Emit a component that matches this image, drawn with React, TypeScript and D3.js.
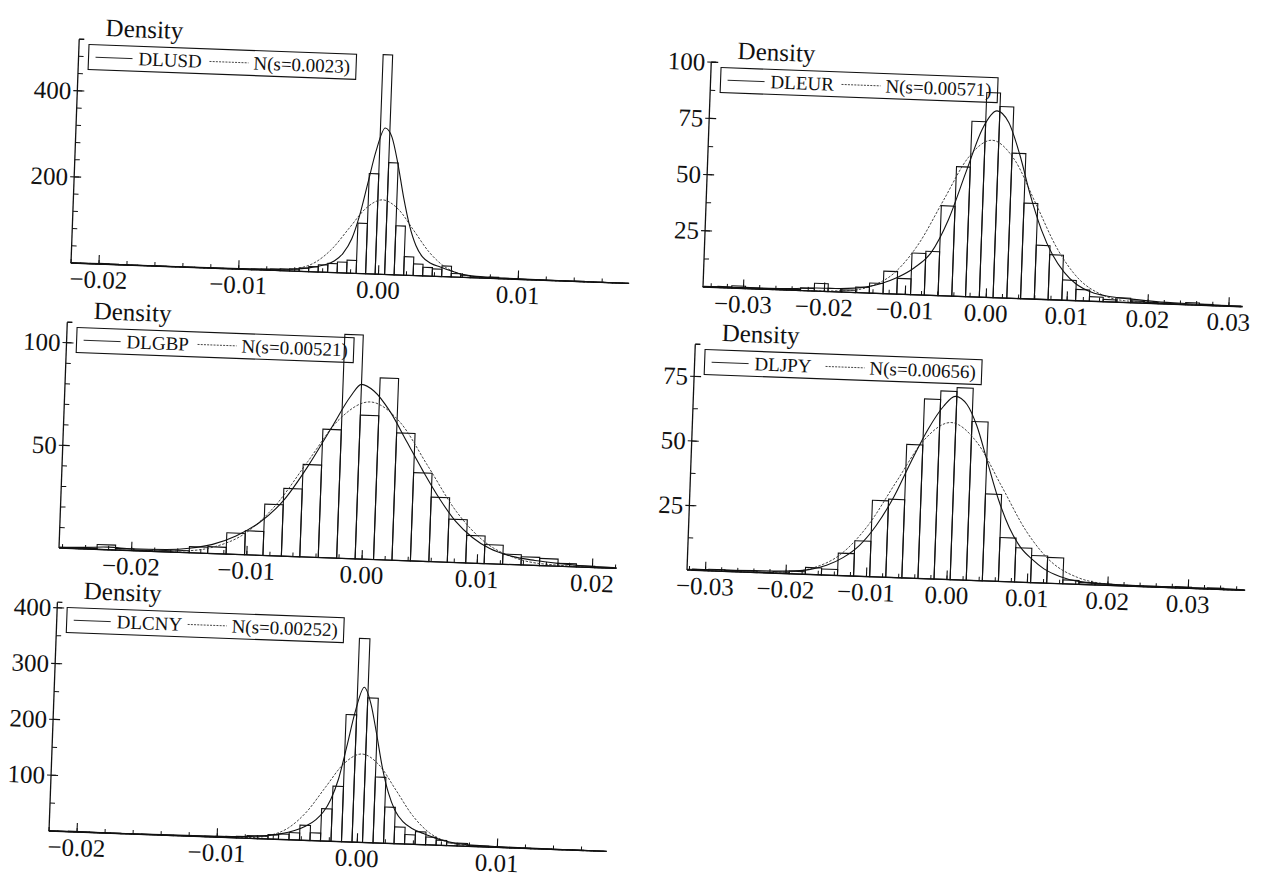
import * as React from 'react';
import * as d3 from 'd3';

// ---- data (densities per histogram bin) ----

// DLUSD: bins of width 0.00068 starting at -0.0220
const usdBinStart = -0.022;
const usdBinWidth = 0.00068;
const usdDensity = [
  0.3, 0.5, 1, 1.5, 1, 0.5, 0.3, 0.3, 0.3, 0.5, 0.3, 0.3, 0.3, 0.3, 0.5, 0.5,
  0.5, 1, 1, 1.5, 2, 3, 4, 5, 8, 12, 17, 21, 25, 30, 117, 233,
  510, 260, 114, 43, 27, 20, 17, 25, 8, 5, 3, 2, 3, 1, 0.8, 0.5,
  0.5, 0.5, 0.3, 0.3, 0.5, 1, 0.5, 0.3, 0.3, 0.3, 0.3,
];
const usdKernel = [
  [-0.022, 0.3], [-0.018, 0.5], [-0.014, 0.8], [-0.01, 1.5], [-0.008, 2.5], [-0.006, 5],
  [-0.005, 9], [-0.004, 16], [-0.0032, 27], [-0.0026, 45], [-0.002, 80], [-0.0015, 135],
  [-0.001, 210], [-0.0005, 285], [0.0001, 340], [0.0006, 320], [0.0011, 258], [0.0016, 180],
  [0.0021, 115], [0.0026, 70], [0.0031, 44], [0.0037, 30], [0.0044, 22], [0.0052, 14],
  [0.006, 7], [0.007, 3.5], [0.009, 2], [0.012, 1], [0.015, 0.6], [0.0179, 0.3],
];
const usdNormal = [
  [-0.022, 0], [-0.0092, 0.06], [-0.0068, 1.9], [-0.00565, 7.6], [-0.0045, 23.4], [-0.00335, 56.3],
  [-0.0022, 105], [-0.00105, 152.6], [0.0001, 173], [0.00125, 152.6], [0.0024, 105], [0.00355, 56.3],
  [0.0047, 23.4], [0.00585, 7.6], [0.007, 1.9], [0.0094, 0.06], [0.0179, 0],
];

// DLEUR
const eurBinStart = -0.03655;
const eurBinWidth = 0.0017;
const eurDensity = [
  0.2, 0.3, 0.5, 1, 0.5, 0.3, 0.3, 0.5, 1.2, 3.5, 1.5, 1, 2.5, 4.5, 10, 7,
  18.5, 19.5, 40, 57.6, 78, 91, 85, 64.5, 42.5, 24, 20, 9, 5, 2, 1, 2,
  0.8, 0.5, 0.3, 0.3, 1, 0.5, 0.3, 0.3,
];
const eurKernel = [
  [-0.035, 0.2], [-0.03, 0.4], [-0.025, 0.6], [-0.021, 1.4], [-0.018, 1.6], [-0.015, 2.6],
  [-0.013, 4.5], [-0.011, 7.5], [-0.009, 12], [-0.007, 19], [-0.005, 34], [-0.003, 56],
  [-0.0012, 75], [0.0005, 83], [0.002, 78], [0.0035, 64], [0.005, 46], [0.0065, 31],
  [0.008, 20], [0.0095, 12.5], [0.011, 7.5], [0.013, 4], [0.015, 2.5], [0.018, 1.6],
  [0.021, 0.9], [0.025, 0.5], [0.0317, 0.2],
];
const eurNormal = [
  [-0.035, 0], [-0.0228, 0.02], [-0.0171, 0.78], [-0.01428, 3.07], [-0.01142, 9.46], [-0.00857, 22.7],
  [-0.00571, 42.4], [-0.00286, 61.7], [0, 69.9], [0.00286, 61.7], [0.00571, 42.4], [0.00857, 22.7],
  [0.01142, 9.46], [0.01428, 3.07], [0.0171, 0.78], [0.0228, 0.02], [0.0317, 0],
];

// DLGBP
const gbpBinStart = -0.0262;
const gbpBinWidth = 0.0016;
const gbpDensity = [
  0.3, 0.5, 2.4, 0.8, 0.5, 0.7, 1, 3, 3.3, 10.4, 11.7, 25, 33, 45, 62.5, 109,
  70, 88.5, 62, 43, 31.4, 21, 13.4, 9.3, 5, 4, 3.5, 1.5, 0.7, 0.4,
];
const gbpKernel = [
  [-0.0263, 0.3], [-0.024, 0.8], [-0.022, 1.3], [-0.02, 0.9], [-0.017, 1.2], [-0.015, 2.2],
  [-0.013, 4.5], [-0.011, 9], [-0.009, 16], [-0.007, 27], [-0.005, 44], [-0.003, 64],
  [-0.0015, 79], [-0.0006, 85], [0.0005, 82], [0.002, 72], [0.0035, 58], [0.005, 44],
  [0.0065, 31], [0.008, 20], [0.0095, 12.5], [0.011, 7.5], [0.013, 4], [0.015, 2.4],
  [0.017, 1.4], [0.019, 0.7], [0.0221, 0.3],
];
const gbpNormal = [
  [-0.0263, 0], [-0.0206, 0.02], [-0.01543, 0.85], [-0.01283, 3.37], [-0.01022, 10.4], [-0.00762, 24.9],
  [-0.00501, 46.5], [-0.00241, 67.6], [0.0002, 76.6], [0.00281, 67.6], [0.00541, 46.5], [0.00802, 24.9],
  [0.01062, 10.4], [0.01323, 3.37], [0.01583, 0.85], [0.0211, 0.02], [0.0221, 0],
];

// DLJPY
const jpyBinStart = -0.0316;
const jpyBinWidth = 0.002;
const jpyDensity = [
  0.4, 0.6, 0.5, 0.5, 0.3, 0.6, 1, 2.7, 2.3, 8.7, 13.7, 29.6, 30.3, 51.7, 69.6, 72.9,
  74.4, 61.5, 33.7, 17, 13.3, 10.5, 10, 1.5, 0.7, 0.5, 0.3, 0.3, 0.3, 0.3, 0.5, 0.3,
  0.5, 0.3, 0.2,
];
const jpyKernel = [
  [-0.0323, 0.3], [-0.028, 0.5], [-0.024, 0.7], [-0.02, 1], [-0.017, 2], [-0.015, 3.8],
  [-0.013, 7], [-0.011, 12], [-0.009, 20], [-0.007, 31], [-0.005, 45], [-0.003, 58],
  [-0.0012, 67], [0.0002, 71], [0.0017, 68], [0.003, 60], [0.0045, 46], [0.006, 32],
  [0.0075, 21], [0.009, 13.5], [0.0105, 9], [0.012, 5.5], [0.014, 2.8], [0.016, 1.3],
  [0.019, 0.6], [0.025, 0.3], [0.032, 0.3], [0.037, 0.2],
];
const jpyNormal = [
  [-0.0323, 0], [-0.0264, 0.02], [-0.0199, 0.68], [-0.0166, 2.67], [-0.01332, 8.2], [-0.01004, 19.8],
  [-0.00676, 36.9], [-0.00348, 53.6], [-0.0002, 60.8], [0.00308, 53.6], [0.00636, 36.9], [0.00964, 19.8],
  [0.01292, 8.2], [0.0162, 2.67], [0.01948, 0.68], [0.026, 0.02], [0.037, 0],
];

// DLCNY
const cnyBinStart = -0.022125;
const cnyBinWidth = 0.00075;
const cnyDensity = [
  0.3, 0.5, 1, 1, 0.8, 0.5, 0.5, 0.3, 0.3, 0.5, 0.3, 0.3, 0.5, 0.5, 0.8, 1,
  1.5, 2, 3, 5, 5, 8, 10, 13, 27, 14, 58, 99, 228,
  365, 259, 118, 65, 30, 17, 23, 14, 9, 5, 5, 2, 1.5, 1, 0.8, 0.5, 0.5,
  0.3, 0.5, 0.3, 0.3, 0.5, 0.3, 0.3,
];
const cnyKernel = [
  [-0.022, 0.3], [-0.018, 0.6], [-0.014, 0.8], [-0.01, 1.5], [-0.008, 3], [-0.0065, 6],
  [-0.0055, 10], [-0.0045, 17], [-0.0037, 26], [-0.003, 38], [-0.0025, 52], [-0.002, 75],
  [-0.0015, 112], [-0.001, 170], [-0.0005, 232], [0.0001, 278], [0.0006, 250], [0.0011, 195],
  [0.0016, 135], [0.0021, 90], [0.0026, 60], [0.0032, 40], [0.0039, 28], [0.0047, 20],
  [0.0055, 13], [0.0065, 7], [0.0075, 3.5], [0.009, 2], [0.012, 1], [0.015, 0.6], [0.0178, 0.3],
];
const cnyNormal = [
  [-0.022, 0], [-0.01, 0.05], [-0.00746, 1.74], [-0.0062, 6.96], [-0.00494, 21.4], [-0.00368, 51.4],
  [-0.00242, 96], [-0.00116, 139.7], [0.0001, 158.3], [0.00136, 139.7], [0.00262, 96], [0.00388, 51.4],
  [0.00514, 21.4], [0.0064, 6.96], [0.00766, 1.74], [0.0102, 0.05], [0.0178, 0],
];

const usdYTicks = [200, 400];
const eurYTicks = [25, 50, 75, 100];
const gbpYTicks = [50, 100];
const jpyYTicks = [25, 50, 75];
const cnyYTicks = [100, 200, 300, 400];

// ---- layout ----

interface PanelSpec {
  name: string;
  sigma: string;
  x0: number;
  y0: number;
  w: number;
  h: number;
  xDomain: [number, number];
  yMax: number;
  yTicks: number[];
  yMinorStep: number;
  binStart: number;
  binWidth: number;
  density: number[];
  kernel: number[][];
  normal: number[][];
}

const FONT = '"Liberation Serif", "Times New Roman", Times, serif';
const ANGLE = 2.1;
const INK = '#111';
const TICK_FS = 25;
const LEG_FS = 19;

// Times-like advance widths (em) for the legend label, to size the box
const EM: Record<string, number> = { N: 0.722, '(': 0.333, ')': 0.333, s: 0.389, '=': 0.564, '.': 0.25 };
const textWidth = (t: string, fs: number) =>
  t.split('').reduce((acc, c) => acc + (EM[c] !== undefined ? EM[c] : 0.5), 0) * fs;

const panels: PanelSpec[] = [
  {
    name: 'DLUSD', sigma: '0.0023', x0: 71, y0: 263, w: 558, h: 224, xDomain: [-0.022, 0.0179],
    yMax: 520, yTicks: usdYTicks, yMinorStep: 40,
    binStart: usdBinStart, binWidth: usdBinWidth, density: usdDensity, kernel: usdKernel, normal: usdNormal,
  },
  {
    name: 'DLEUR', sigma: '0.00571', x0: 703, y0: 287, w: 540, h: 225, xDomain: [-0.035, 0.0317],
    yMax: 100, yTicks: eurYTicks, yMinorStep: 12.5,
    binStart: eurBinStart, binWidth: eurBinWidth, density: eurDensity, kernel: eurKernel, normal: eurNormal,
  },
  {
    name: 'DLGBP', sigma: '0.00521', x0: 59, y0: 548, w: 558, h: 226, xDomain: [-0.0263, 0.0221],
    yMax: 110, yTicks: gbpYTicks, yMinorStep: 10,
    binStart: gbpBinStart, binWidth: gbpBinWidth, density: gbpDensity, kernel: gbpKernel, normal: gbpNormal,
  },
  {
    name: 'DLJPY', sigma: '0.00656', x0: 687, y0: 570, w: 558, h: 226, xDomain: [-0.0323, 0.037],
    yMax: 87.5, yTicks: jpyYTicks, yMinorStep: 12.5,
    binStart: jpyBinStart, binWidth: jpyBinWidth, density: jpyDensity, kernel: jpyKernel, normal: jpyNormal,
  },
  {
    name: 'DLCNY', sigma: '0.00252', x0: 49, y0: 831, w: 558, h: 229, xDomain: [-0.022, 0.0178],
    yMax: 410, yTicks: cnyYTicks, yMinorStep: 50,
    binStart: cnyBinStart, binWidth: cnyBinWidth, density: cnyDensity, kernel: cnyKernel, normal: cnyNormal,
  },
];

function Panel({ spec }: { spec: PanelSpec }) {
  const [lo, hi] = spec.xDomain;
  const x = d3.scaleLinear().domain(spec.xDomain).range([0, spec.w]);
  const y = d3.scaleLinear().domain([0, spec.yMax]).range([0, -spec.h]);

  const bars = spec.density
    .map((d, i) => {
      const a = Math.max(lo, spec.binStart + i * spec.binWidth);
      const b = Math.min(hi, spec.binStart + (i + 1) * spec.binWidth);
      return { a, b, d };
    })
    .filter(b => b.b > b.a);

  const line = d3.line<number[]>()
    .x(p => x(p[0]))
    .y(p => y(p[1]))
    .curve(d3.curveMonotoneX);

  const xMajor = d3.range(Math.ceil(lo / 0.01 - 1e-9), Math.floor(hi / 0.01 + 1e-9) + 1).map(k => k * 0.01);
  const xMinor = d3.range(Math.ceil(lo / 0.002), Math.floor(hi / 0.002) + 1).map(k => k * 0.002);
  const yMinor = d3.range(spec.yMinorStep, spec.yMax + 1e-9, spec.yMinorStep);
  const fmt = d3.format('.2f');

  const nText = `N(s=${spec.sigma})`;
  const legW = 171 + textWidth(nText, LEG_FS);
  const legTop = -spec.h + 5;

  return (
    <g transform={`translate(${spec.x0},${spec.y0}) rotate(${ANGLE})`}>
      {/* bars */}
      {bars.map((b, i) => (
        <rect key={i} x={x(b.a)} y={y(b.d)} width={x(b.b) - x(b.a)} height={-y(b.d)}
          fill="none" stroke={INK} strokeWidth={1.1} />
      ))}
      {/* normal and kernel curves */}
      <path d={line(spec.normal) || ''} fill="none" stroke="#333" strokeWidth={0.9} strokeDasharray="2.5 1.5" />
      <path d={line(spec.kernel) || ''} fill="none" stroke={INK} strokeWidth={1.1} />

      {/* axes */}
      <line x1={0} y1={0} x2={spec.w} y2={0} stroke={INK} strokeWidth={1.3} />
      <line x1={0} y1={0} x2={0} y2={-spec.h} stroke={INK} strokeWidth={1.3} />
      <line x1={0} y1={-spec.h} x2={5} y2={-spec.h} stroke={INK} strokeWidth={1.1} />

      {xMinor.map((v, i) => (
        <line key={'xm' + i} x1={x(v)} x2={x(v)} y1={0} y2={-4} stroke={INK} strokeWidth={1} />
      ))}
      {xMajor.map((v, i) => (
        <g key={'xM' + i}>
          <line x1={x(v)} x2={x(v)} y1={0} y2={-9} stroke={INK} strokeWidth={1.1} />
          <text x={x(v)} y={24} textAnchor="middle" fontSize={TICK_FS} fontFamily={FONT} fill={INK}>
            {fmt(Math.abs(v) < 1e-9 ? 0 : v)}
          </text>
        </g>
      ))}

      {yMinor.map((v, i) => (
        <line key={'ym' + i} x1={0} x2={5} y1={y(v)} y2={y(v)} stroke={INK} strokeWidth={1} />
      ))}
      {spec.yTicks.map((v, i) => (
        <g key={'yM' + i}>
          <line x1={-4} x2={7} y1={y(v)} y2={y(v)} stroke={INK} strokeWidth={1.1} />
          <text x={-6} y={y(v) + 8.5} textAnchor="end" fontSize={TICK_FS} fontFamily={FONT} fill={INK}>
            {v}
          </text>
        </g>
      ))}

      <text x={26} y={-spec.h - 4} fontSize={TICK_FS} fontFamily={FONT} fill={INK}>Density</text>

      {/* legend */}
      <rect x={10} y={legTop} width={legW} height={25} fill="none" stroke={INK} strokeWidth={1.1} />
      <line x1={17} x2={54} y1={legTop + 12.5} y2={legTop + 12.5} stroke={INK} strokeWidth={0.9} />
      <text x={60} y={legTop + 19} fontSize={LEG_FS} fontFamily={FONT} fill={INK}>{spec.name}</text>
      <line x1={131} x2={170} y1={legTop + 12.5} y2={legTop + 12.5} stroke="#333" strokeWidth={0.9}
        strokeDasharray="2 1.2" />
      <text x={175} y={legTop + 19} fontSize={LEG_FS} fontFamily={FONT} fill={INK}>{nText}</text>
    </g>
  );
}

export default function App() {
  return (
    <div style={{ position: 'absolute', left: 0, top: 0 }}>
      <svg width={1264} height={878} style={{ display: 'block', background: '#fff' }}>
        <rect x={0} y={0} width={1264} height={878} fill="#fff" />
        {panels.map(p => <Panel key={p.name} spec={p} />)}
      </svg>
    </div>
  );
}
